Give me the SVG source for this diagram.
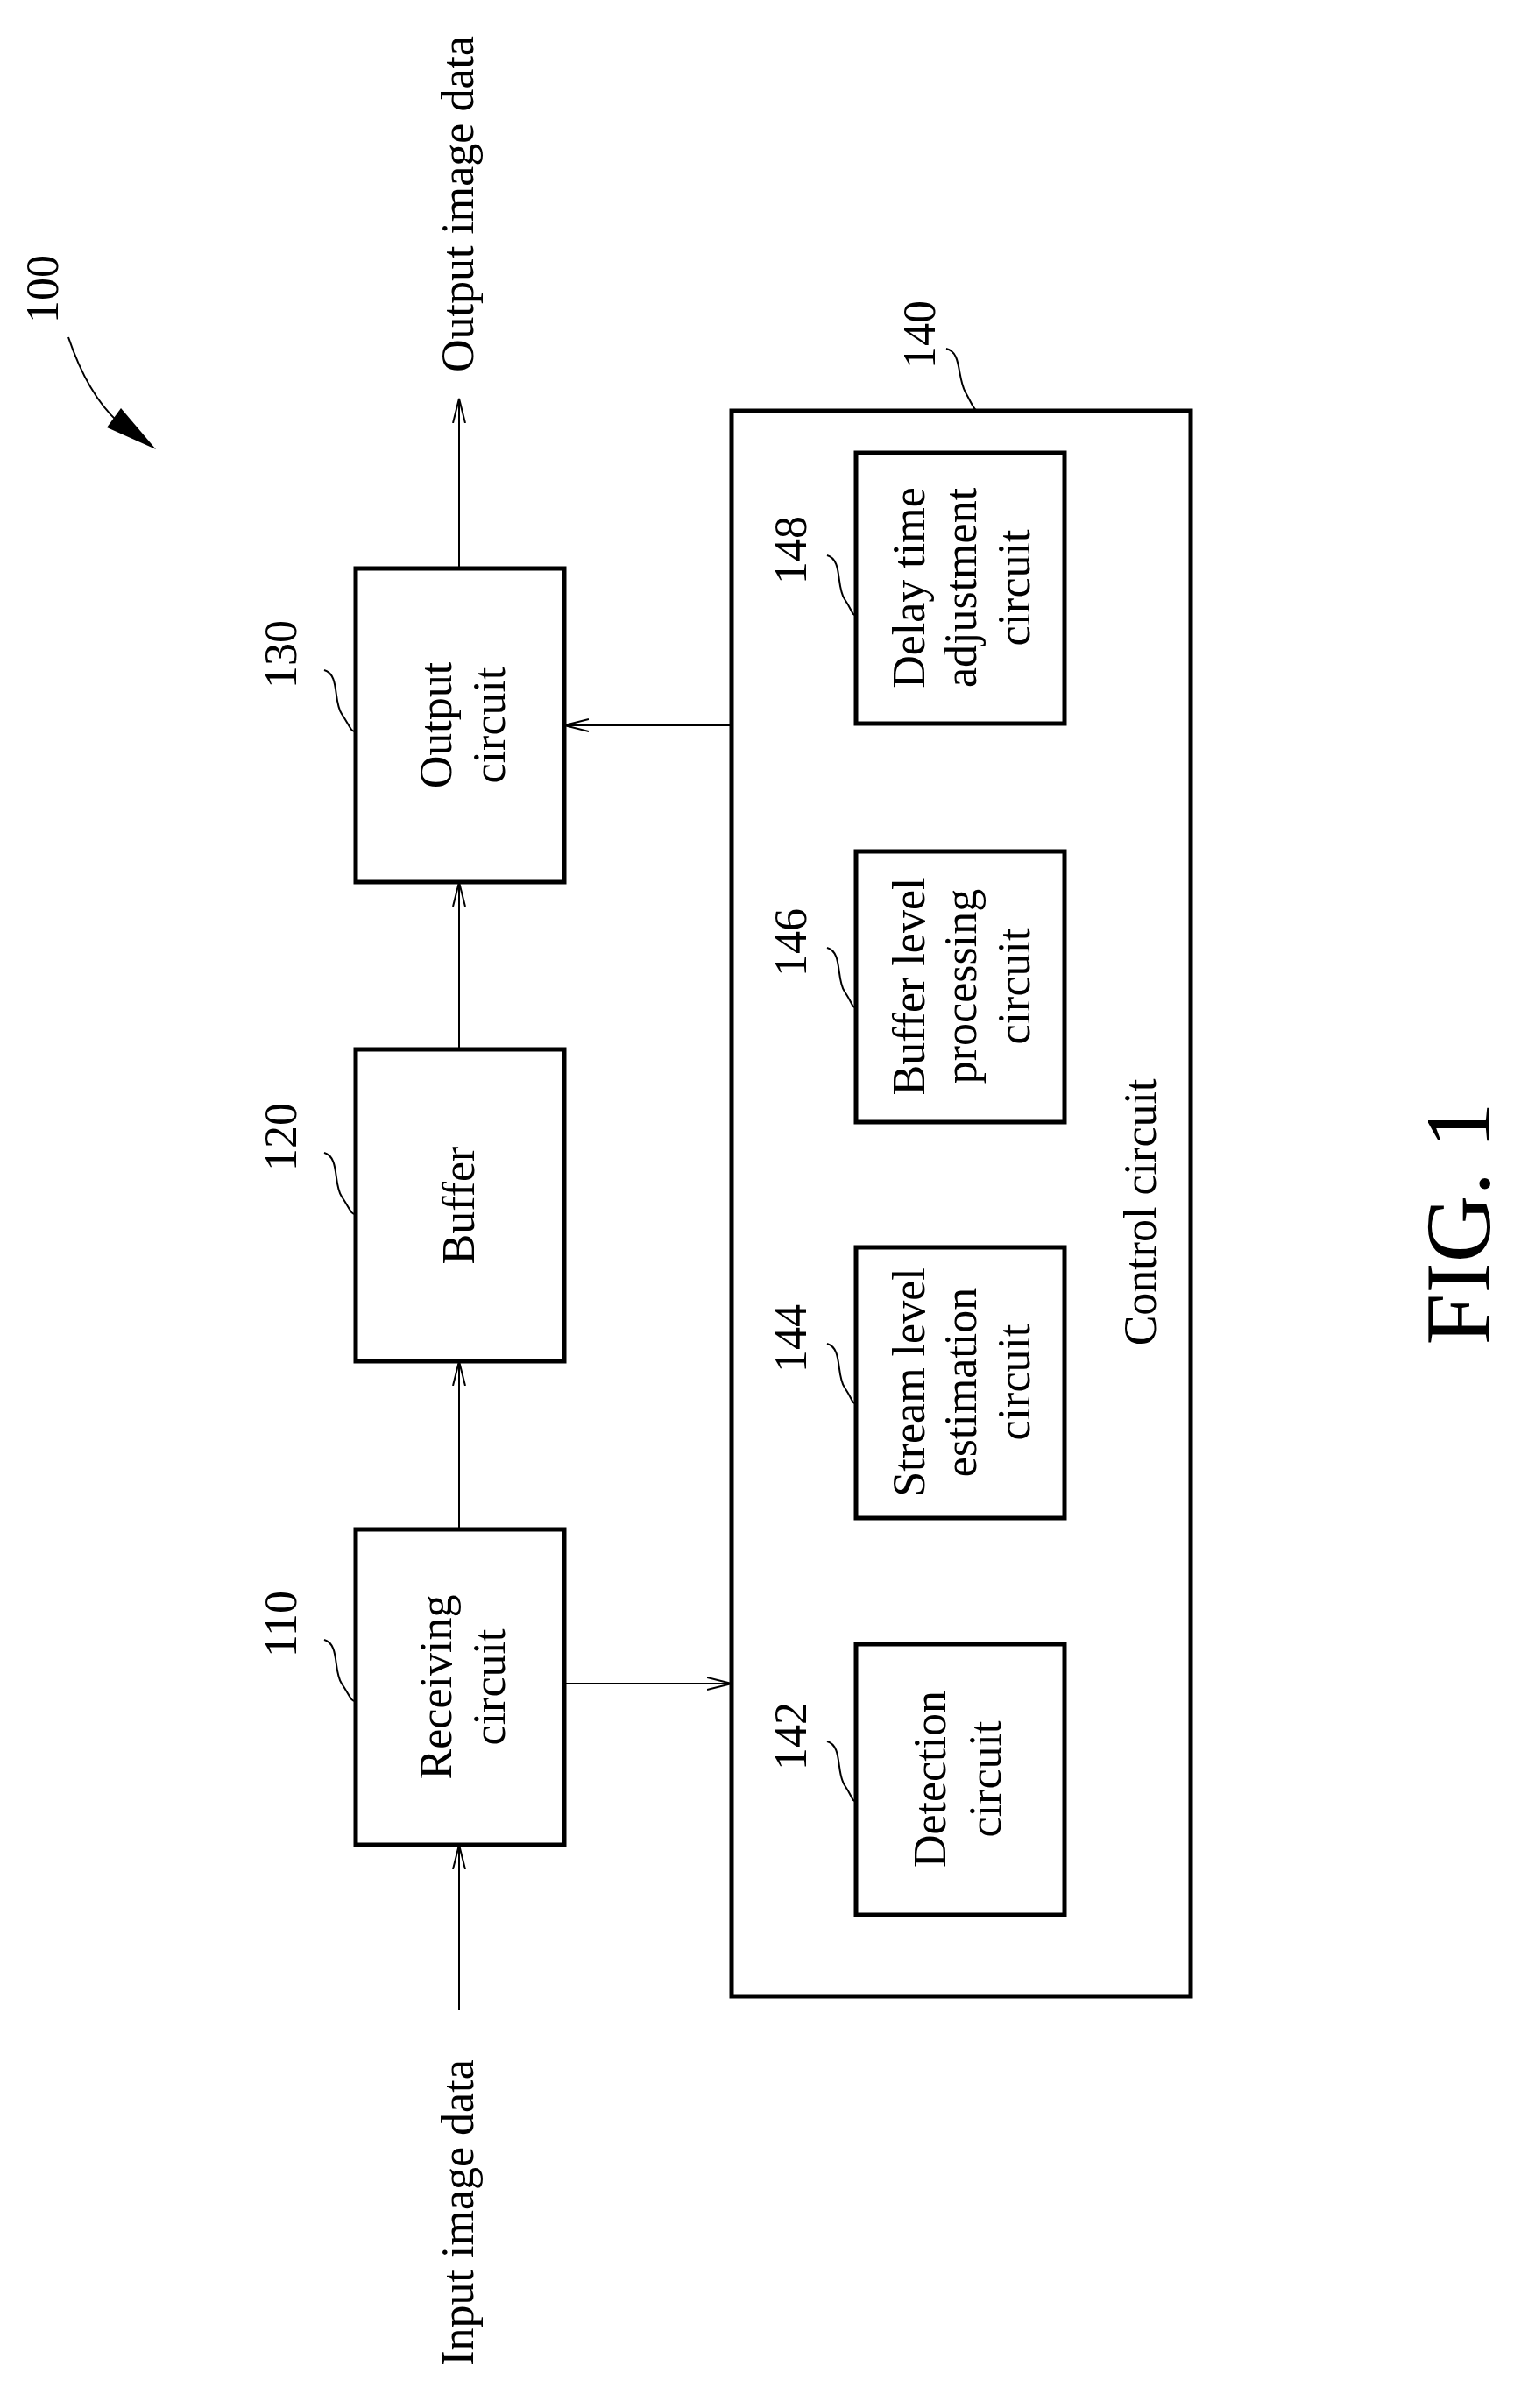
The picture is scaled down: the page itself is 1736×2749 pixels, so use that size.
<svg xmlns="http://www.w3.org/2000/svg" width="1736" height="2749" viewBox="0 0 1736 2749">
<style>
.b{fill:#fff;stroke:#000;stroke-width:5}
.l{fill:none;stroke:#000;stroke-width:2}
text{font-family:"Liberation Serif","DejaVu Serif",serif;font-size:52px;fill:#000;text-anchor:middle}
</style>
<defs>
<marker id="a" markerWidth="30" markerHeight="20" refX="28" refY="10" orient="auto" markerUnits="userSpaceOnUse">
<path d="M0,3 L28,10 L0,17" fill="none" stroke="#000" stroke-width="2"/>
</marker>
</defs>
<rect width="1736" height="2749" fill="#fff"/>
<g id="connectors">
<line class="l" x1="524" y1="2295" x2="524" y2="2106" marker-end="url(#a)"/>
<line class="l" x1="524" y1="1746" x2="524" y2="1554" marker-end="url(#a)"/>
<line class="l" x1="524" y1="1198" x2="524" y2="1007" marker-end="url(#a)"/>
<line class="l" x1="524" y1="649" x2="524" y2="455" marker-end="url(#a)"/>
<line class="l" x1="644" y1="1922" x2="835" y2="1922" marker-end="url(#a)"/>
<line class="l" x1="835" y1="828" x2="644" y2="828" marker-end="url(#a)"/>
<line class="l" x1="1096" y1="1877" x2="1096" y2="1733" marker-end="url(#a)"/>
<line class="l" x1="1096" y1="1424" x2="1096" y2="1281" marker-end="url(#a)"/>
<line class="l" x1="1096" y1="972" x2="1096" y2="826" marker-end="url(#a)"/>
</g>
<g id="io-labels">
<text transform="translate(540,233) rotate(-90)">Output image data</text>
<text transform="translate(540,2526) rotate(-90)">Input image data</text>
</g>
<g id="n140">
<rect class="b" x="835" y="469" width="524" height="1810"/>
<text transform="translate(1319,1384) rotate(-90)">Control circuit</text>
<text transform="translate(1067,382) rotate(-90)">140</text>
<path class="l" d="M1080,398 C1098,402 1092,430 1102,448 S1112,470 1120,470"/>
</g>
<g id="n130">
<rect class="b" x="406" y="649" width="238" height="358"/>
<text transform="translate(515,828) rotate(-90)">Output</text>
<text transform="translate(576,828) rotate(-90)">circuit</text>
<text transform="translate(338,747) rotate(-90)">130</text>
<path class="l" d="M370,765 C388,770 380,800 390,815 S400,835 406,835"/>
</g>
<g id="n120">
<rect class="b" x="406" y="1198" width="238" height="356"/>
<text transform="translate(541,1376) rotate(-90)">Buffer</text>
<text transform="translate(338,1298) rotate(-90)">120</text>
<path class="l" d="M370,1316 C388,1321 380,1351 390,1366 S400,1386 406,1386"/>
</g>
<g id="n110">
<rect class="b" x="406" y="1746" width="238" height="360"/>
<text transform="translate(515,1926) rotate(-90)">Receiving</text>
<text transform="translate(576,1926) rotate(-90)">circuit</text>
<text transform="translate(338,1854) rotate(-90)">110</text>
<path class="l" d="M370,1872 C388,1877 380,1907 390,1922 S400,1942 406,1942"/>
</g>
<g id="n148">
<rect class="b" x="977" y="517" width="238" height="309"/>
<text transform="translate(1055,671) rotate(-90)">Delay time</text>
<text transform="translate(1114,671) rotate(-90)">adjustment</text>
<text transform="translate(1175,671) rotate(-90)">circuit</text>
<text transform="translate(920,628) rotate(-90)">148</text>
<path class="l" d="M944,634 C962,639 954,669 964,684 S972,702 977,702"/>
</g>
<g id="n146">
<rect class="b" x="977" y="972" width="238" height="309"/>
<text transform="translate(1055,1126) rotate(-90)">Buffer level</text>
<text transform="translate(1114,1126) rotate(-90)">processing</text>
<text transform="translate(1175,1126) rotate(-90)">circuit</text>
<text transform="translate(920,1076) rotate(-90)">146</text>
<path class="l" d="M944,1082 C962,1087 954,1117 964,1132 S972,1150 977,1150"/>
</g>
<g id="n144">
<rect class="b" x="977" y="1424" width="238" height="309"/>
<text transform="translate(1055,1578) rotate(-90)">Stream level</text>
<text transform="translate(1114,1578) rotate(-90)">estimation</text>
<text transform="translate(1175,1578) rotate(-90)">circuit</text>
<text transform="translate(920,1528) rotate(-90)">144</text>
<path class="l" d="M944,1534 C962,1539 954,1569 964,1584 S972,1602 977,1602"/>
</g>
<g id="n142">
<rect class="b" x="977" y="1877" width="238" height="309"/>
<text transform="translate(1079,2031) rotate(-90)">Detection</text>
<text transform="translate(1142,2031) rotate(-90)">circuit</text>
<text transform="translate(920,1982) rotate(-90)">142</text>
<path class="l" d="M944,1988 C962,1993 954,2023 964,2038 S972,2056 977,2056"/>
</g>
<g id="n100">
<text transform="translate(66,330) rotate(-90)">100</text>
<path class="l" d="M78,385 Q100,450 135,482"/>
<polygon points="178,513 122,488 138,466" fill="#000"/>
</g>
<g id="fig">
<text style="font-size:106px" transform="translate(1700,1397) rotate(-90)">FIG. 1</text>
</g>
</svg>
